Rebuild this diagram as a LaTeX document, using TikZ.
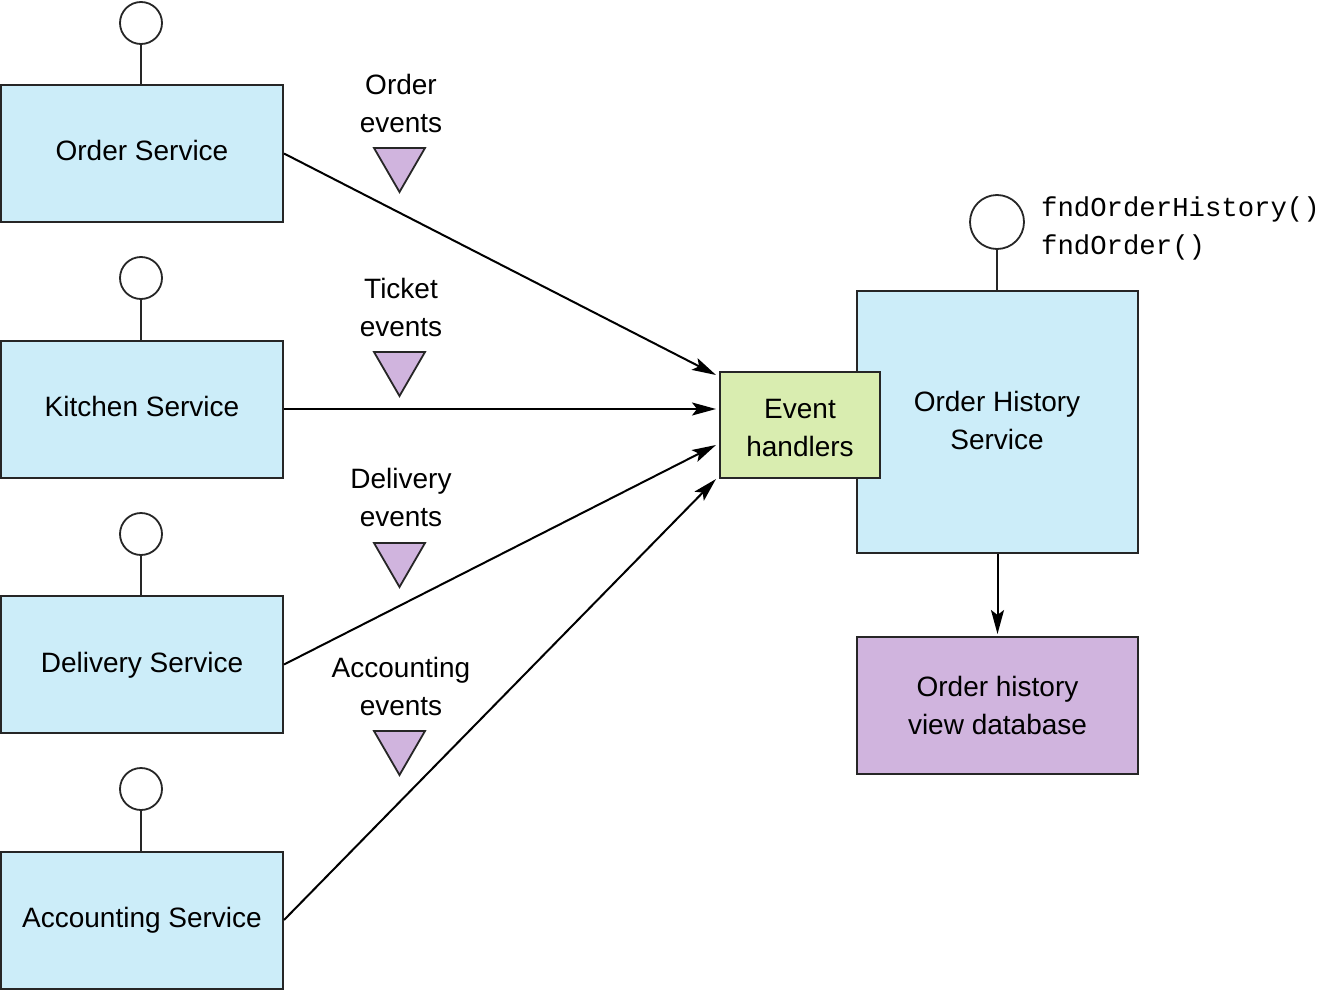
\documentclass[tikz,border=0pt]{standalone}
\usepackage{fontspec}
\setmainfont{Liberation Sans}
\newfontfamily\codefont{Liberation Mono}
\usetikzlibrary{arrows.meta,calc}
\definecolor{svcblue}{RGB}{204,237,249}
\definecolor{handlergreen}{RGB}{217,237,176}
\definecolor{evtpurple}{RGB}{208,180,222}
\begin{document}
\begin{tikzpicture}[x=1pt,y=-1pt,
  every node/.style={font=\fontsize{28}{38}\selectfont, align=center, inner sep=0pt},
  svcbox/.style={draw=black!85, line width=2pt, fill=svcblue, minimum width=282pt, minimum height=137pt},
  handlerbox/.style={draw=black!85, line width=2pt, fill=handlergreen, minimum width=160pt, minimum height=106pt},
  dbbox/.style={draw=black!85, line width=2pt, fill=evtpurple, minimum width=281pt, minimum height=137pt},
  port/.style={draw=black!85, line width=1.8pt, fill=white, circle, minimum size=42pt},
  stem/.style={draw=black!85, line width=2pt},
  flow/.style={draw=black, line width=2pt, -{Stealth[length=24pt,width=13pt,inset=5pt]}},
  evttri/.style={draw=black!85, line width=1.8pt, fill=evtpurple, line join=miter}
]
\useasboundingbox (0,0) rectangle (1323,990);

% source services with their ports
\node[svcbox] (os) at (142,153.5) {};
\node[svcbox] (ks) at (142,409) {};
\node[svcbox] (ds) at (142,664.5) {};
\node[svcbox] (as) at (142,920) {};
\node (oslabel) at (142,150.5) {Order Service};
\node (kslabel) at (142,406) {Kitchen Service};
\node (dslabel) at (142,665.5) {Delivery Service};
\node (aslabel) at (142,920) {Accounting Service};
\node[port] (osp) at (141,23) {};
\node[port] (ksp) at (141,278) {};
\node[port] (dsp) at (141,534) {};
\node[port] (asp) at (141,789) {};
\draw[stem] (osp.south) -- (osp.south |- os.north);
\draw[stem] (ksp.south) -- (ksp.south |- ks.north);
\draw[stem] (dsp.south) -- (dsp.south |- ds.north);
\draw[stem] (asp.south) -- (asp.south |- as.north);

% order history service, its query port and the event handlers
\node[svcbox, minimum width=281pt, minimum height=262pt] (ohs) at (997.5,422) {};
\node (ohslabel) at (997,420) {Order History\\Service};
\node[port, minimum size=54pt] (ohp) at (997,222) {};
\draw[stem] (ohp.south) -- (ohp.south |- ohs.north);
\node[anchor=west, font=\codefont\fontsize{27.3}{38}\selectfont, align=left] (api) at (1041,228) {fndOrderHistory()\\fndOrder()};
\node[handlerbox] (eh) at (800,425) {};
\node (ehlabel) at (800,428) {Event\\handlers};

% view database
\node[dbbox] (db) at (997.5,705.5) {Order history\\view database};
\draw[flow] (ohs.south) -- ($(db.north)+(0,-2)$);

% event streams
\coordinate (ehk) at ($(ks.east -| eh.west)+(-3,0)$);
\coordinate (ehd) at ($(eh.west)+(-3,20)$);
\draw[flow] (os.east) -- ($(eh.north west)+(-3,4)$);
\draw[flow] (ks.east) -- (ehk);
\draw[flow] (ds.east) -- (ehd);
\draw[flow] (as.east) -- ($(eh.south west)+(-3,0)$);

% event labels and channel markers
\node (lo) at (401,103) {Order\\events};
\node (lk) at (401,307) {Ticket\\events};
\node (ld) at (401,497.5) {Delivery\\events};
\node (la) at (401,686.5) {Accounting\\events};
\draw[evttri] (374,148) -- (425,148) -- (399.5,192) -- cycle;
\draw[evttri] (374,352) -- (425,352) -- (399.5,396) -- cycle;
\draw[evttri] (374,543) -- (425,543) -- (399.5,587) -- cycle;
\draw[evttri] (374,731) -- (425,731) -- (399.5,775) -- cycle;
\end{tikzpicture}
\end{document}
